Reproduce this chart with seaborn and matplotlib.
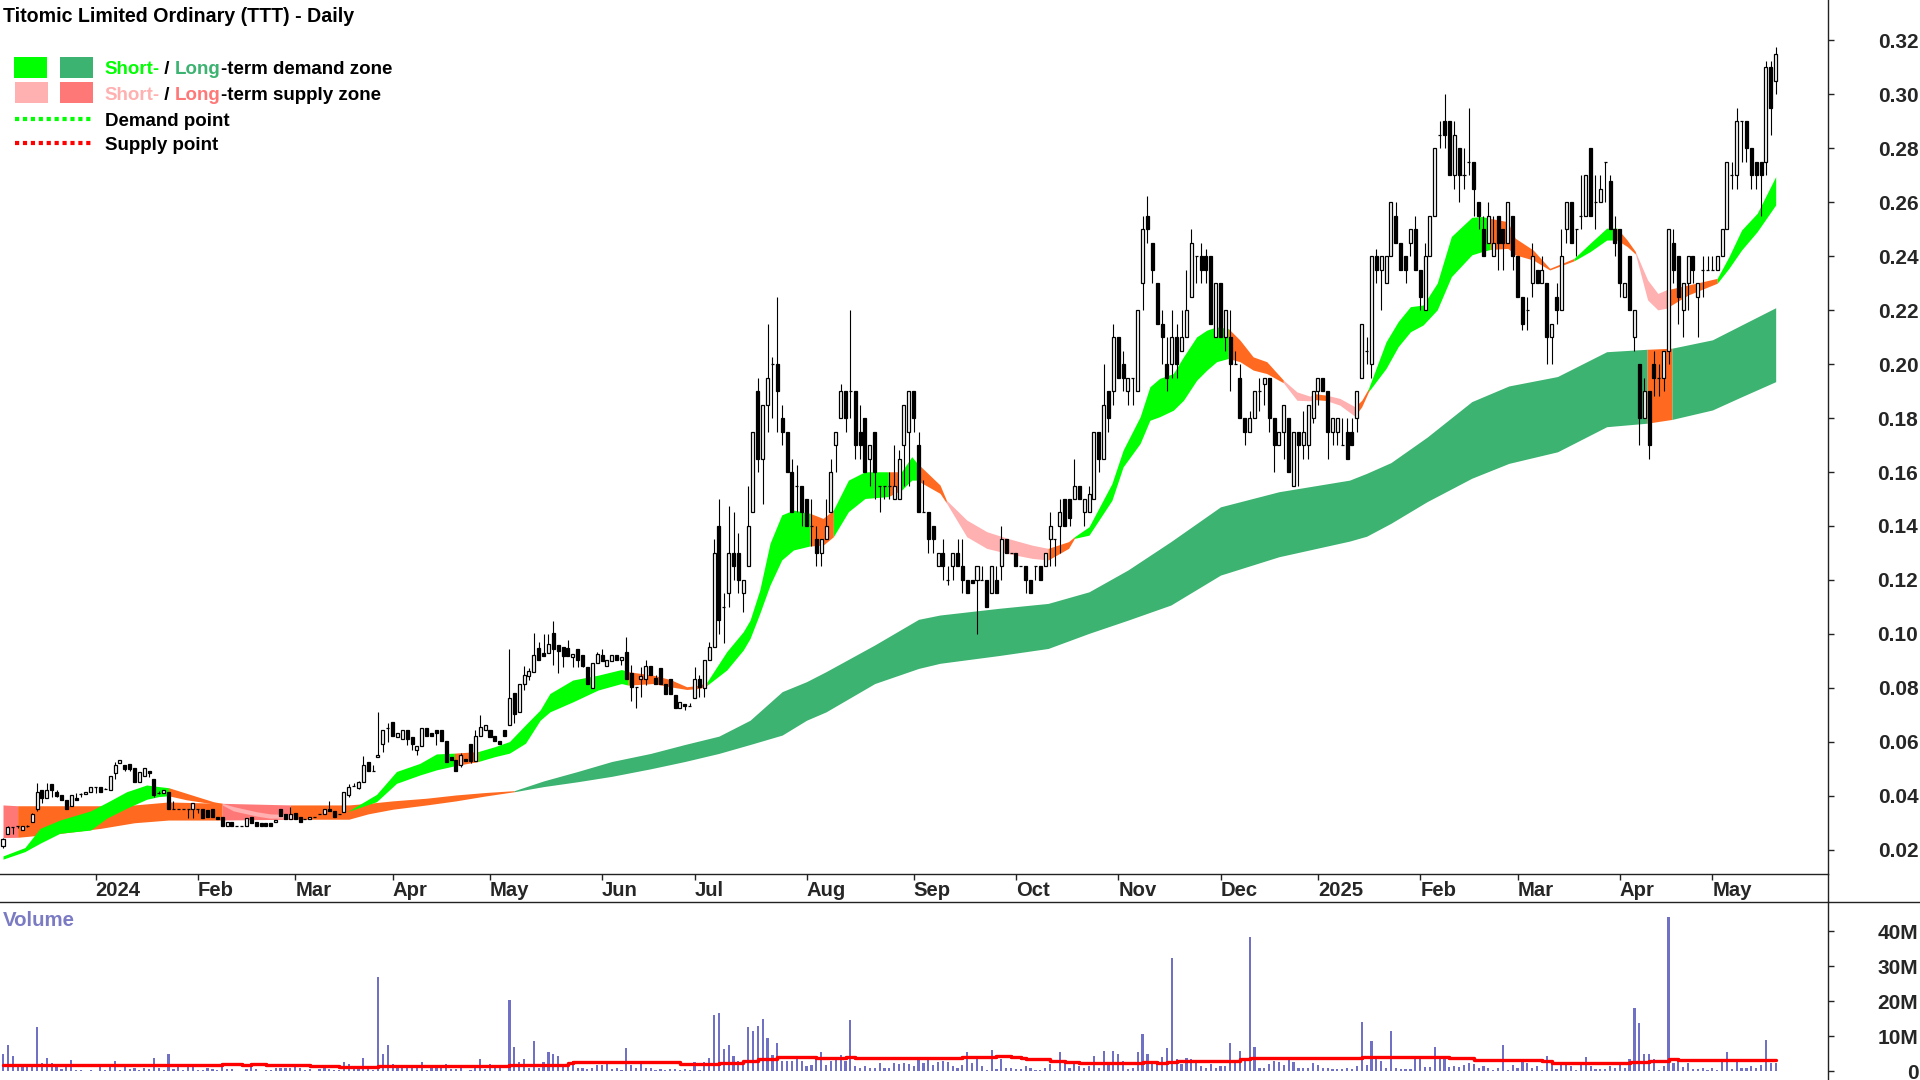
import matplotlib
matplotlib.use("Agg")
import matplotlib.pyplot as plt
from matplotlib.lines import Line2D
from matplotlib.patches import Rectangle
import pandas as pd
import seaborn as sns

# Candles, one value per trading day
opens = [
    .0215,.0258,.0285,.0289,.0273,.0289,.0302,.0350,.0421,.0391,
    .0444,.0415,.0403,.0385,.0362,.0390,.0405,.0405,.0415,.0431,
    .0431,.0424,.0421,.0483,.0521,.0514,.0516,.0502,.0450,.0473,
    .0492,.0461,.0412,.0412,.0415,.0350,.0350,.0350,.0350,.0350,
    .0350,.0350,.0347,.0350,.0320,.0320,.0289,.0302,.0289,.0289,
    .0289,.0320,.0302,.0298,.0298,.0298,.0302,.0351,.0333,.0313,
    .0337,.0320,.0314,.0313,.0320,.0333,.0333,.0350,.0342,.0333,
    .0341,.0401,.0438,.0428,.0450,.0524,.0492,.0543,.0592,.0650,
    .0675,.0619,.0611,.0644,.0616,.0570,.0585,.0653,.0634,.0644,
    .0644,.0603,.0543,.0533,.0514,.0536,.0591,.0530,.0622,.0642,
    .0644,.0622,.0604,.0644,.0663,.0782,.0712,.0815,.0844,.0860,
    .0947,.0930,.0930,.1002,.0959,.0950,.0949,.0913,.0943,.0921,
    .0878,.0798,.0891,.0921,.0881,.0900,.0921,.0903,.0934,.0854,
    .0802,.0831,.0831,.0881,.0835,.0872,.0814,.0831,.0773,.0724,
    .0740,.0733,.0761,.0831,.0798,.0903,.095,.14,.11,.115,
    .13,.13,.115,.125,.145,.19,.165,.185,.20,.20,
    .18,.175,.16,.155,.155,.15,.14,.135,.13,.135,
    .145,.17,.18,.19,.19,.19,.175,.18,.165,.175,
    .155,.155,.155,.15,.15,.17,.175,.19,.17,.145,
    .145,.14,.125,.13,.12,.125,.13,.125,.12,.12,
    .12,.12,.12,.115,.12,.125,.135,.13,.13,.125,
    .125,.12,.125,.125,.125,.135,.135,.14,.15,.15,
    .15,.155,.145,.145,.15,.175,.165,.19,.19,.21,
    .20,.19,.195,.19,.23,.255,.245,.23,.215,.20,
    .20,.21,.205,.21,.225,.24,.24,.24,.24,.21,
    .23,.21,.21,.20,.195,.18,.175,.18,.19,.1925,
    .195,.18,.17,.175,.18,.155,.175,.17,.17,.18,
    .19,.195,.19,.175,.175,.17,.175,.175,.18,.195,
    .205,.20,.24,.235,.23,.24,.255,.245,.24,.245,
    .25,.235,.22,.24,.255,.285,.29,.29,.27,.28,
    .27,.275,.275,.26,.25,.245,.24,.255,.25,.245,
    .255,.24,.225,.22,.23,.235,.23,.23,.21,.225,
    .22,.25,.26,.25,.255,.255,.28,.26,.26,.275,
    .268,.25,.25,.225,.24,.21,.20,.18,.19,.20,
    .195,.195,.205,.245,.24,.22,.23,.24,.225,.235,
    .235,.235,.235,.24,.25,.27,.27,.29,.29,.28,
    .275,.275,.275,.31,.305,
]
closes = [
    .0240,.0283,.0285,.0289,.0289,.0289,.0333,.0413,.0391,.0421,
    .0421,.0399,.0385,.0350,.0403,.0385,.0405,.0415,.0431,.0431,
    .0415,.0424,.0473,.0514,.0533,.0498,.0498,.0450,.0487,.0502,
    .0483,.0403,.0412,.0421,.0350,.0350,.0350,.0350,.0350,.0373,
    .0350,.0317,.0320,.0320,.0313,.0289,.0302,.0289,.0289,.0289,
    .0317,.0298,.0289,.0289,.0289,.0289,.0310,.0325,.0313,.0333,
    .0313,.0302,.0314,.0320,.0320,.0333,.0350,.0342,.0320,.0333,
    .0415,.0434,.0438,.0450,.0514,.0490,.0492,.0552,.0644,.0650,
    .0622,.0632,.0644,.0611,.0591,.0585,.0653,.0622,.0622,.0632,
    .0603,.0527,.0533,.0490,.0551,.0530,.0530,.0622,.0654,.0663,
    .0619,.0603,.0591,.0622,.0764,.0703,.0815,.0846,.0864,.0922,
    .0904,.0918,.0962,.0943,.0938,.0918,.0918,.0925,.0903,.0881,
    .0816,.0893,.0925,.0900,.0903,.0921,.0903,.0913,.0831,.0804,
    .0802,.0844,.0881,.0847,.0814,.0814,.0779,.0779,.0724,.0748,
    .0732,.0733,.0831,.0802,.0903,.0952,.13,.105,.11,.13,
    .125,.12,.12,.14,.175,.165,.185,.195,.20,.19,
    .175,.16,.145,.155,.145,.14,.14,.13,.135,.14,
    .16,.175,.19,.18,.19,.17,.17,.16,.17,.16,
    .155,.155,.155,.155,.165,.185,.19,.18,.145,.145,
    .135,.135,.13,.125,.12,.13,.125,.12,.115,.119,
    .125,.12,.11,.125,.115,.135,.13,.13,.125,.125,
    .12,.115,.125,.12,.13,.14,.135,.145,.14,.143,
    .155,.15,.15,.152,.175,.165,.185,.18,.21,.195,
    .195,.195,.195,.22,.25,.25,.235,.215,.21,.195,
    .21,.20,.21,.22,.245,.24,.235,.235,.215,.23,
    .21,.22,.20,.20,.18,.175,.18,.19,.19,.195,
    .18,.17,.175,.185,.16,.175,.17,.175,.185,.19,
    .195,.19,.175,.18,.18,.17,.165,.17,.19,.215,
    .205,.24,.235,.24,.24,.26,.245,.235,.235,.25,
    .235,.225,.24,.255,.28,.285,.285,.27,.285,.27,
    .27,.275,.265,.255,.24,.255,.245,.245,.245,.26,
    .24,.225,.215,.22,.24,.23,.235,.21,.215,.22,
    .24,.26,.245,.25,.255,.27,.255,.26,.265,.275,
    .25,.245,.23,.23,.22,.22,.18,.19,.17,.195,
    .195,.205,.25,.235,.225,.23,.24,.235,.23,.235,
    .235,.235,.24,.25,.275,.27,.29,.29,.28,.27,
    .27,.27,.31,.295,.315,
]
highs = [
    .0245,.0287,.0285,.0289,.0289,.0292,.0336,.0449,.0421,.0449,
    .0444,.0421,.0403,.0385,.0403,.0412,.0412,.0415,.0431,.0431,
    .0431,.0430,.0473,.0527,.0533,.0514,.0516,.0502,.0487,.0502,
    .0492,.0461,.0418,.0421,.0415,.0381,.0350,.0350,.0350,.0373,
    .0350,.0350,.0347,.0350,.0320,.0320,.0302,.0302,.0289,.0289,
    .0317,.0320,.0302,.0298,.0298,.0298,.0310,.0351,.0333,.0360,
    .0337,.0320,.0314,.0320,.0320,.0333,.0350,.0382,.0342,.0333,
    .0415,.0444,.0447,.0456,.0549,.0524,.0514,.0712,.0644,.0669,
    .0675,.0632,.0644,.0644,.0616,.0585,.0653,.0653,.0634,.0644,
    .0644,.0603,.0543,.0533,.0558,.0536,.0591,.0642,.0700,.0663,
    .0644,.0622,.0604,.0644,.0943,.0782,.0815,.0880,.0873,.1002,
    .0971,.1000,.1000,.1049,.0959,.0950,.0977,.0925,.0943,.0921,
    .0878,.0893,.0934,.0943,.0903,.0921,.0921,.0913,.0989,.0884,
    .0802,.0878,.0903,.0881,.0847,.0872,.0814,.0831,.0773,.0748,
    .0740,.0745,.0878,.0847,.0903,.0971,.135,.15,.115,.1475,
    .145,.1375,.12,.155,.175,.195,.185,.215,.2025,.225,
    .185,.175,.165,.1625,.155,.15,.15,.14,.135,.15,
    .165,.175,.1925,.19,.22,.19,.185,.18,.17,.175,
    .155,.155,.16,.17,.168,.185,.19,.19,.175,.157,
    .145,.14,.13,.135,.125,.13,.135,.135,.12,.12,
    .125,.125,.12,.125,.125,.14,.135,.13,.13,.125,
    .125,.12,.125,.125,.13,.145,.135,.15,.15,.15,
    .165,.155,.15,.155,.175,.175,.20,.19,.215,.21,
    .205,.195,.195,.22,.255,.2625,.245,.23,.22,.21,
    .22,.215,.22,.235,.25,.24,.245,.2425,.24,.23,
    .23,.22,.22,.205,.20,.18,.1825,.19,.195,.195,
    .195,.18,.175,.185,.18,.175,.175,.1825,.185,.19,
    .195,.195,.19,.18,.18,.18,.18,.18,.19,.215,
    .21,.24,.2425,.24,.24,.26,.26,.245,.24,.25,
    .255,.235,.245,.255,.28,.29,.30,.29,.29,.28,
    .28,.295,.275,.26,.255,.26,.255,.255,.25,.26,
    .255,.24,.225,.225,.245,.235,.24,.23,.215,.23,
    .25,.26,.26,.25,.27,.27,.28,.27,.27,.275,
    .27,.255,.25,.23,.24,.22,.20,.195,.19,.205,
    .20,.205,.25,.25,.24,.23,.24,.24,.23,.24,
    .24,.24,.24,.25,.275,.275,.295,.29,.29,.28,
    .275,.275,.3125,.3125,.3175,
]
lows = [
    .0205,.0258,.0260,.0280,.0273,.0285,.0302,.0345,.0375,.0391,
    .0397,.0394,.0385,.0350,.0362,.0385,.0397,.0405,.0415,.0412,
    .0415,.0424,.0421,.0461,.0521,.0493,.0490,.0450,.0450,.0473,
    .0470,.0394,.0405,.0412,.0350,.0350,.0350,.0350,.0317,.0317,
    .0335,.0317,.0320,.0320,.0313,.0289,.0289,.0289,.0289,.0289,
    .0289,.0298,.0289,.0289,.0289,.0289,.0302,.0325,.0313,.0313,
    .0313,.0302,.0314,.0313,.0320,.0333,.0333,.0342,.0320,.0333,
    .0341,.0394,.0438,.0424,.0450,.0490,.0492,.0543,.0564,.0601,
    .0622,.0619,.0611,.0588,.0570,.0551,.0585,.0622,.0622,.0588,
    .0603,.0527,.0533,.0490,.0508,.0530,.0520,.0530,.0622,.0642,
    .0619,.0603,.0591,.0622,.0663,.0669,.0712,.0792,.0829,.0860,
    .0904,.0918,.0930,.0884,.0854,.0878,.0918,.0878,.0878,.0876,
    .0816,.0798,.0891,.0900,.0881,.0900,.0903,.0884,.0831,.0752,
    .0724,.0767,.0810,.0847,.0814,.0814,.0779,.0779,.0724,.0724,
    .0718,.0733,.0761,.0767,.0767,.0903,.095,.10,.0965,.11,
    .12,.115,.108,.125,.145,.16,.148,.175,.18,.175,
    .17,.16,.145,.145,.14,.14,.1325,.125,.125,.135,
    .145,.16,.18,.175,.18,.165,.165,.16,.155,.15,
    .145,.15,.15,.15,.15,.155,.155,.175,.145,.145,
    .13,.13,.125,.12,.118,.12,.125,.115,.115,.119,
    .10,.12,.11,.115,.115,.12,.13,.13,.125,.125,
    .115,.115,.12,.12,.125,.125,.125,.13,.14,.14,
    .15,.15,.14,.145,.15,.16,.165,.175,.185,.195,
    .19,.185,.185,.19,.22,.245,.23,.215,.20,.19,
    .195,.195,.205,.21,.225,.23,.23,.23,.215,.21,
    .21,.205,.19,.20,.18,.17,.175,.18,.1825,.185,
    .175,.16,.17,.165,.16,.155,.155,.165,.165,.178,
    .185,.19,.165,.17,.17,.17,.165,.17,.175,.195,
    .20,.195,.23,.22,.23,.24,.245,.235,.23,.24,
    .235,.22,.22,.24,.255,.28,.28,.27,.265,.26,
    .265,.27,.255,.25,.24,.245,.24,.235,.235,.245,
    .235,.225,.2125,.2125,.225,.23,.23,.20,.20,.215,
    .22,.245,.245,.24,.25,.255,.255,.25,.26,.26,
    .25,.24,.225,.225,.22,.205,.17,.18,.165,.188,
    .188,.19,.20,.23,.215,.21,.22,.23,.21,.225,
    .235,.235,.235,.24,.25,.265,.265,.275,.275,.265,
    .265,.255,.27,.285,.30,
]

# Volume in millions, one value per trading day
volumes = [
    4.95,7.3,4.2,1.9,1.9,2.1,2.1,12.6,2.4,3.8,
    2.4,1.9,.7,2.1,3.2,.2,.2,.05,.2,.05,
    1.9,.2,2.1,2.8,.4,1.3,.7,1,.4,1,
    .7,3.8,1,.2,4.8,.5,2.1,.4,1.4,1.9,
    .2,.2,1,.7,.2,1.3,.5,.5,.05,.05,
    .5,2.1,.5,.05,.4,.2,1,.8,.8,1,
    1.3,.8,.2,.5,.05,.5,.8,.5,.2,.2,
    2.5,1.9,1,.8,3.6,1,.2,26.8,5,7.3,
    1.9,.8,1,1.3,1,.8,2.5,.2,.8,1,
    .8,1.9,.5,.5,.8,.05,.2,1.5,3.3,.5,
    1.9,.8,.8,.1,20.2,7,2.5,3.3,1,8.5,
    .8,2.5,5.3,4.8,4.2,1.6,1.6,2.8,.8,1,
    .5,.8,1.6,1.6,2.2,.5,.8,.2,6.5,1.6,
    .8,2.8,1,.8,.2,.5,.2,.5,.5,.2,
    .5,.2,2.5,.2,2.5,3.6,15.9,16.5,6.2,7.3,
    4.2,3,2.2,12.5,11.3,13,15,9.3,4.5,7.9,
    2.8,3,2.8,3.6,3,1.3,1.6,3.9,5.3,1.6,
    2.8,3.6,4.5,2.8,14.5,1.3,1,1.3,1,.8,
    2.2,.8,.8,2.2,1.9,2.2,1.9,1.3,3.9,2.2,
    3.3,1.6,2.5,2.8,2.5,1.3,.8,1.6,5.3,2.2,
    4.2,1.3,.2,5.9,.5,3.3,1,.8,.5,.5,
    1.3,.8,.2,.2,.8,1.9,.2,5.3,2.2,1,
    2.5,1.3,1,1.3,4.2,1,5.6,2.5,5.6,4.8,
    3,.5,1,5.3,10.5,5,2.2,3,3.9,6.5,
    32.2,3.3,1.9,3.6,3.3,2.5,1.3,1,1.9,1,
    1.3,1.3,7.9,2.2,5.6,3,38.2,7,1,.8,
    1.9,3,2.5,1.6,3.3,2.5,1,1,.8,2.2,
    1.6,1,1,.5,.5,.5,.8,.5,1.3,13.9,
    1.6,8.5,3.6,2.8,.8,11.3,1,.5,.5,.5,
    3.4,3.6,1.2,1.1,6.9,3.4,3.4,1.2,1.4,1.2,
    1.6,2.2,2,.8,1.4,.9,.3,1,7.4,.3,
    1.6,1,3.4,2.3,1,1.3,.3,4.3,2.3,.6,
    1.7,1.7,1.4,.3,2,4,1.3,.6,.7,.5,
    1.3,1,2.6,.9,3.4,18,13.7,4.9,4.9,3.4,
    .3,1.4,43.9,2.4,3.3,1.1,2.3,.6,.6,.8,
    .2,.8,.3,2.9,5.4,.5,2.9,.8,.9,1.4,
    .9,1.7,8.9,2.3,2.3,
]

# Volume average, one level from each bar where it steps
vol_ma_bars = [0,45,49,51,54,63,69,77,95,104,116,117,139,147,152,155,159,167,173,175,
               197,204,207,209,210,215,217,218,221,234,237,239,241,243,254,256,262,
               279,286,297,302,316,318,334,338,342,344,364]
vol_ma = [1.7,2.0,1.7,2.0,1.7,1.33,1.05,1.4,1.33,1.8,2.2,2.5,2.0,2.3,2.8,3.3,3.9,3.6,3.9,3.6,
          3.9,4.2,3.9,3.6,3.3,3.0,2.8,2.5,2.2,2.5,2.2,2.5,2.8,3.0,3.3,3.6,3.8,
          4.1,4.0,3.7,3.1,2.8,2.4,2.7,2.9,3.3,3.1,3.1]

# Long-term zone edges
long_bars = [0,3,12,20,27,34,45,59,71,75,80,87,93,99,105,111,118,125,133,140,147,153.4,160,165,169,
             179,188,192.4,204.6,214.6,223,231,239.8,250,262,276.5,280,285,292.4,301.6,309.2,
             319.2,329.3,337.6,342.7,351,357,364]
long_top = [.0366,.0363,.0363,.0363,.0366,.0377,.0372,.0366,.0366,.0372,.0381,.0391,.0403,.0412,.0419,
            .0455,.0490,.0527,.0557,.0590,.0621,.0680,.0786,.0823,.0860,.0959,.1054,.1070,.1095,.1113,
            .1156,.1237,.1342,.1471,.1527,.1570,.1595,.1635,.1729,.1861,.1919,.1954,.2046,.2055,
            .2059,.2090,.2145,.2209]
long_bottom = [.0245,.0246,.0261,.0279,.0300,.0310,.0310,.0313,.0313,.0333,.0350,.0366,.0381,.0399,.0415,
               .0434,.0452,.0472,.0500,.0527,.0557,.0590,.0625,.0680,.0711,.0816,.0872,.0891,.0920,.0946,
               .1002,.1051,.1107,.1218,.1286,.1344,.1362,.1410,.1490,.1577,.1632,.1675,.1768,.1781,
               .1795,.1830,.1879,.1935]
# bar where each colour of the long-term zone starts
long_change_bars = [0,3,45,59,105,337.6,342.7]
long_change_colors = ["salmon","orange","salmon","orange","seagreen","orange","seagreen"]

# Short-term zone edges
short_bars = [0,4.5,7.6,11.7,18,21.3,25.4,29.5,32,34,37.7,43.2,45,47.3,52,54.8,60,70.7,76.7,80.8,
              85.6,89,92.7,97.6,101,104,107.3,110.3,112.3,117,122.2,127,128.4,133.5,137,140.4,143.1,
              144.6,148.6,152,153.4,155.4,157.5,159.9,162.3,165.7,168.4,170.5,173.6,177,181.8,184.5,
              186.6,187.6,192.4,193.7,197.9,202,206.3,211.3,214.6,218.8,220,223,227.7,230,233.5,235.5,
              237.5,240.3,242.4,245.1,247.2,249.2,251.6,254,256.7,259.5,262.9,265.7,268.4,269.1,271.7,
              274.5,277.6,279,280.4,284,286.5,289,291.6,294.5,297.4,301.6,303.7,305.4,309,310.5,314.2,
              317.6,322.6,325.9,329.3,331.4,333.5,335.2,337.7,339.8,341.5,346,352,354.4,357,360.2,364]
short_top = [.0177,.0208,.0279,.0310,.0344,.0375,.0415,.0440,.0434,.0430,.0409,.0378,.0372,.0360,.0341,
             .0333,.0329,.0341,.0405,.0490,.0520,.0555,.0558,.0564,.0582,.0601,.0663,.0718,.0779,.0829,
             .0847,.0868,.0860,.0847,.0831,.0804,.0810,.0823,.0934,.1008,.1051,.1163,.1336,.1441,.1459,
             .1447,.1428,.1459,.1570,.1601,.1601,.1601,.1657,.1635,.1552,.1496,.1422,.1379,.1354,.1329,
             .1317,.1342,.1360,.1397,.1557,.1681,.1805,.1916,.1947,.1965,.2027,.2101,.2126,.2138,.2132,
             .2089,.2027,.2009,.1941,.1897,.1881,.1891,.1885,.1873,.1842,.1866,.1910,.2083,.2158,.2213,
             .2219,.2300,.2473,.2544,.2547,.2540,.2528,.2467,.2423,.2355,.2392,.2448,.2504,.2504,.2460,
             .2417,.2312,.2262,.2275,.2293,.2318,.2398,.2497,.2559,.2695]
short_bottom = [.0165,.0193,.0224,.0261,.0273,.0317,.0354,.0387,.0397,.0400,.0385,.0370,.0366,.0344,.0325,
                .0317,.0317,.0341,.0378,.0446,.0477,.0496,.0511,.0527,.0545,.0558,.0595,.0680,.0711,.0748,
                .0792,.0816,.0810,.0816,.0804,.0794,.0798,.0810,.0866,.0940,.0983,.1076,.1181,.1274,.1311,
                .1326,.1329,.1360,.1453,.1502,.1509,.1533,.1570,.1570,.1521,.1486,.1360,.1317,.1298,.1280,
                .1274,.1317,.1354,.1366,.1495,.1619,.1706,.1792,.1805,.1829,.1866,.1940,.1978,.2009,.2021,
                .2009,.1978,.1965,.1931,.1866,.1864,.1869,.1865,.1848,.1807,.1842,.1898,.1984,.2065,.2120,
                .2145,.2201,.2324,.2405,.2417,.2425,.2429,.2405,.2386,.2349,.2383,.2417,.2460,.2460,.2436,
                .2408,.2238,.2201,.2207,.2256,.2300,.2355,.2423,.2491,.2590]
# bar where each colour of the short-term zone starts
short_change_bars = [0,34,45,60,70.7,92.7,97.6,128.4,144.6,165.7,170.5,181.8,184.5,187.6,193.7,214.6,
                     220,251.6,262.9,269.1,271.7,277.6,280.4,305.4,322.6,331.4,335.2,341.5,352]
short_change_colors = ["lime","orange","pink","orange","lime","orange","lime","orange","lime","orange",
                       "lime","orange","lime","orange","pink","orange","lime","orange","pink","orange",
                       "pink","orange","lime","orange","lime","orange","pink","orange","lime"]

month_bars = [19,40,60,80,100,123,142,165,187,208,229,250,270,291,311,332,351]
month_labels = ["2024","Feb","Mar","Apr","May","Jun","Jul","Aug","Sep","Oct","Nov","Dec",
                "2025","Feb","Mar","Apr","May"]
price_ticks = [.02,.04,.06,.08,.10,.12,.14,.16,.18,.20,.22,.24,.26,.28,.30,.32]
volume_ticks = [0,10,20,30,40]
volume_labels = ["0","10M","20M","30M","40M"]

ZONE_COLORS = {"lime": "#00FF00", "seagreen": "#3CB371", "pink": "#FFB0B0",
               "salmon": "#FF7878", "orange": "#FF6A20"}
BAR_STEP = 4.87
WIDTH, HEIGHT = 1920, 1080
PLOT_RIGHT = 1828
TICK_SIZE = 15
LEGEND_SIZE = 13.5

sns.set_theme(style="white")
plt.rcParams["font.family"] = ["Liberation Sans", "DejaVu Sans"]
plt.rcParams["font.weight"] = "bold"


def draw_zone(ax, bars, top, bottom, change_bars, change_colors, zorder):
    # one polygon per colour, the readings where the colour changes are shared by both sides
    ends = change_bars[1:] + [bars[-1]]
    for start, end, name in zip(change_bars, ends, change_colors):
        first = bars.index(start)
        last = bars.index(end) + 1
        ax.fill_between(bars[first:last], top[first:last], bottom[first:last],
                        color=ZONE_COLORS[name], linewidth=0, antialiased=False, zorder=zorder)


def draw_candles(ax):
    frame = pd.DataFrame({"open": opens, "high": highs, "low": lows, "close": closes})
    frame["bar"] = frame.index
    ax.vlines(frame["bar"], frame["low"], frame["high"], color="black", linewidth=0.8, zorder=3)
    colors = ["black" if c < o else "white" for o, c in zip(frame["open"], frame["close"])]
    ax.bar(frame["bar"], frame["close"] - frame["open"], bottom=frame["open"], width=0.62,
           color=colors, edgecolor="black", linewidth=0.9, zorder=4)


def draw_legend(over):
    boxes = [(14, 57, "#00FF00"), (60, 57, "#3CB371"), (15, 82, "#FFB0B0"), (60, 82, "#FF7878")]
    for x, y, color in boxes:
        over.add_patch(Rectangle((x, y), 33, 21, color=color, linewidth=0))
    over.add_line(Line2D([15, 92], [119, 119], color="#00FF00", linewidth=3, dashes=(1, 0.9)))
    over.add_line(Line2D([15, 92], [143, 143], color="#FF0000", linewidth=3, dashes=(1, 0.9)))

    rows = [(70, [("Short-", "#00FF00"), (" / ", "black"), ("Long", "#3CB371"), ("-term demand zone", "black")]),
            (95, [("Short-", "#FFB0B0"), (" / ", "black"), ("Long", "#FF7878"), ("-term supply zone", "black")])]
    for y, parts in rows:
        prev = over.text(104, y, parts[0][0], color=parts[0][1], fontsize=LEGEND_SIZE, va="center")
        for text, color in parts[1:]:
            prev = over.annotate(text, xy=(1, 0.5), xycoords=prev, va="center", ha="left",
                                 color=color, fontsize=LEGEND_SIZE)
    over.text(105, 121, "Demand point", color="black", fontsize=LEGEND_SIZE, va="center")
    over.text(105, 145, "Supply point", color="black", fontsize=LEGEND_SIZE, va="center")


fig = plt.figure(figsize=(WIDTH / 100, HEIGHT / 100), dpi=100, facecolor="white")
ax = fig.add_axes([0, 1 - 874 / HEIGHT, PLOT_RIGHT / WIDTH, 874 / HEIGHT])
ax_vol = fig.add_axes([0, 0, PLOT_RIGHT / WIDTH, (HEIGHT - 902) / HEIGHT])

# price panel
draw_zone(ax, long_bars, long_top, long_bottom, long_change_bars, long_change_colors, 1)
draw_zone(ax, short_bars, short_top, short_bottom, short_change_bars, short_change_colors, 2)
draw_candles(ax)

x_left = -3 / BAR_STEP
x_right = (PLOT_RIGHT - 3) / BAR_STEP
ax.set_xlim(x_left, x_right)
ax.set_ylim(.0110, .33497)
ax.set_xticks(month_bars)
ax.set_xticklabels(month_labels, ha="left", fontsize=14.6)
ax.yaxis.tick_right()
ax.set_yticks(price_ticks)
ax.set_yticklabels([f"{t:.2f}" for t in price_ticks], ha="right", fontsize=TICK_SIZE)
ax.tick_params(axis="x", direction="out", length=4, width=1, pad=1, bottom=True, color="#222222")
ax.tick_params(axis="y", direction="out", length=4, width=1, pad=61, right=True, color="#222222")

# volume panel
volume_frame = pd.DataFrame({"bar": range(len(volumes)), "volume": volumes})
sns.barplot(data=volume_frame, x="bar", y="volume", native_scale=True, color="#7070C4",
            saturation=1, width=0.45, linewidth=0, ax=ax_vol, zorder=2)
sns.lineplot(x=vol_ma_bars, y=vol_ma, color="#FF0000", linewidth=2.4, drawstyle="steps-post",
             errorbar=None, ax=ax_vol, zorder=3)
ax_vol.set_xlim(x_left, x_right)
ax_vol.set_ylim(-2.57, 48.29)
ax_vol.set_xticks([])
ax_vol.set_xlabel("")
ax_vol.set_ylabel("")
ax_vol.yaxis.tick_right()
ax_vol.set_yticks(volume_ticks)
ax_vol.set_yticklabels(volume_labels, ha="right", fontsize=TICK_SIZE)
ax_vol.tick_params(axis="y", direction="out", length=4, width=1, pad=61, right=True, color="#222222")

for a in (ax, ax_vol):
    for side in ("left", "top", "bottom", "right"):
        a.spines[side].set_visible(False)
    a.spines["right"].set_visible(True)
    a.spines["right"].set_color("#222222")
    a.spines["right"].set_linewidth(1)
ax.spines["bottom"].set_visible(True)
ax.spines["bottom"].set_color("#222222")
ax.spines["bottom"].set_linewidth(1)
ax_vol.spines["top"].set_visible(True)
ax_vol.spines["top"].set_color("#222222")
ax_vol.spines["top"].set_linewidth(1)

# overlay in pixels for the title, the legend and the rules of the date band
over = fig.add_axes([0, 0, 1, 1], facecolor="none")
over.set_xlim(0, WIDTH)
over.set_ylim(HEIGHT, 0)
over.axis("off")
over.add_line(Line2D([PLOT_RIGHT - 0.5] * 2, [874, 902], color="#222222", linewidth=1))
over.add_line(Line2D([PLOT_RIGHT, WIDTH], [902, 902], color="#222222", linewidth=1))
over.text(3, 16, "Titomic Limited Ordinary (TTT) - Daily", color="black", fontsize=14.1, va="center")
over.text(3, 921, "Volume", color="#7B7BC4", fontsize=14.7, va="center")
draw_legend(over)

fig.savefig("out.png", dpi=100)
